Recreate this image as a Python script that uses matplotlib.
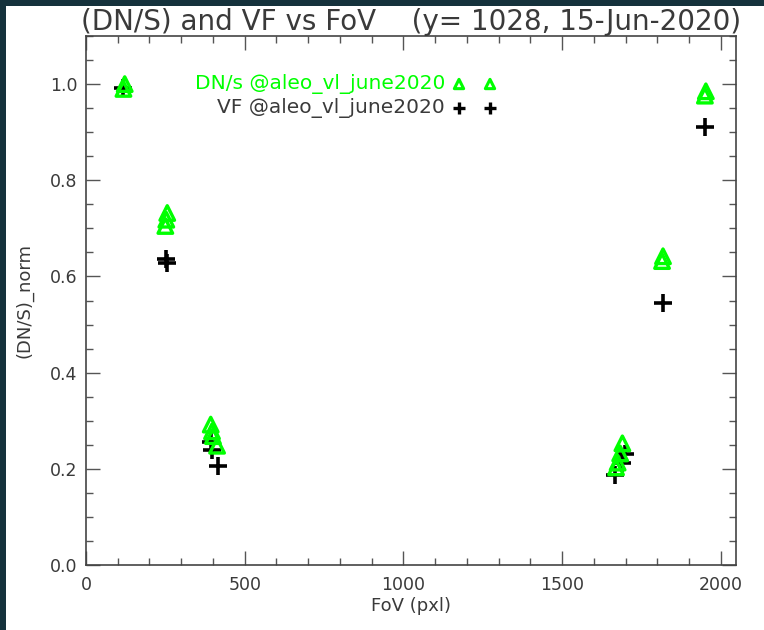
import matplotlib
matplotlib.use("Agg")
import matplotlib.pyplot as plt
from matplotlib.patches import Rectangle
from matplotlib.ticker import MultipleLocator, FormatStrFormatter

# DN/s (normalised) measurements
dns_fov = [118, 122, 250, 253, 256, 393, 397, 400, 413,
           1670, 1675, 1683, 1690, 1815, 1818, 1950, 1953]
dns_val = [0.990, 1.000, 0.705, 0.718, 0.732, 0.292, 0.278, 0.268, 0.248,
           0.203, 0.213, 0.232, 0.253, 0.632, 0.642, 0.976, 0.985]

# VF (normalised) measurements
vf_fov = [118, 252, 256, 393, 398, 416, 1668, 1690, 1697, 1818, 1950]
vf_val = [0.992, 0.636, 0.628, 0.255, 0.240, 0.205, 0.188, 0.212, 0.230,
          0.544, 0.910]

title = "(DN/S) and VF vs FoV    (y= 1028, 15-Jun-2020)"
xlabel = "FoV (pxl)"
ylabel = "(DN/S)_norm"
dns_label = "DN/s @aleo_vl_june2020"
vf_label = "VF @aleo_vl_june2020"

GREEN = "#00ff00"
TXT = "#3a3a3a"

fig = plt.figure(figsize=(7.64, 6.30), dpi=100, facecolor="#15323c")
fig.add_artist(Rectangle((6 / 764, 0), 1, 1 - 6 / 630, transform=fig.transFigure,
                         facecolor="white", edgecolor="none", zorder=-10))

ax = fig.add_axes([86 / 764, 1 - 565 / 630, 650 / 764, 529 / 630])
ax.set_zorder(1)
ax.set_facecolor("white")

ax.scatter(vf_fov, vf_val, marker="+", s=150, color="black", linewidths=2.6, zorder=3)
ax.scatter(dns_fov, dns_val, marker="^", s=110, facecolors="none",
           edgecolors=GREEN, linewidths=2.4, zorder=4)

ax.set_xlim(0, 2048)
ax.set_ylim(0, 1.1)
ax.xaxis.set_major_locator(MultipleLocator(500))
ax.xaxis.set_minor_locator(MultipleLocator(100))
ax.yaxis.set_major_locator(MultipleLocator(0.2))
ax.yaxis.set_minor_locator(MultipleLocator(0.05))
ax.yaxis.set_major_formatter(FormatStrFormatter("%.1f"))
ax.tick_params(which="both", direction="in", top=True, right=True,
               color="#555555", labelcolor=TXT, labelsize=12.5)
ax.tick_params(which="major", length=10, width=1)
ax.tick_params(which="minor", length=5, width=1)
ax.tick_params(axis="x", pad=8)
ax.tick_params(axis="y", pad=6)
for s in ax.spines.values():
    s.set_color("#444444")
    s.set_linewidth(1.2)

ax.set_title(title, fontsize=20, color=TXT, pad=4)
ax.set_xlabel(xlabel, fontsize=13, color=TXT, labelpad=2)
ax.set_ylabel(ylabel, fontsize=13, color=TXT, labelpad=12)

# legend drawn IDL-style: label followed by two symbols
lx_text = (445 - 86) / 650
lx_m1 = (459 - 86) / 650
lx_m2 = (490 - 86) / 650
ly1 = (565 - 84) / 529
ly2 = (565 - 108) / 529
ax.text(lx_text, ly1, dns_label, transform=ax.transAxes, ha="right", va="center",
        fontsize=14.5, color=GREEN)
ax.text(lx_text, ly2, vf_label, transform=ax.transAxes, ha="right", va="center",
        fontsize=14.5, color=TXT)
ax.scatter([lx_m1, lx_m2], [ly1, ly1], transform=ax.transAxes, marker="^", s=45,
           facecolors="none", edgecolors=GREEN, linewidths=2.2, zorder=5)
ax.scatter([lx_m1, lx_m2], [ly2, ly2], transform=ax.transAxes, marker="+", s=70,
           color="black", linewidths=2.4, zorder=5)

fig.savefig("out.png", dpi=100, facecolor=fig.get_facecolor())
